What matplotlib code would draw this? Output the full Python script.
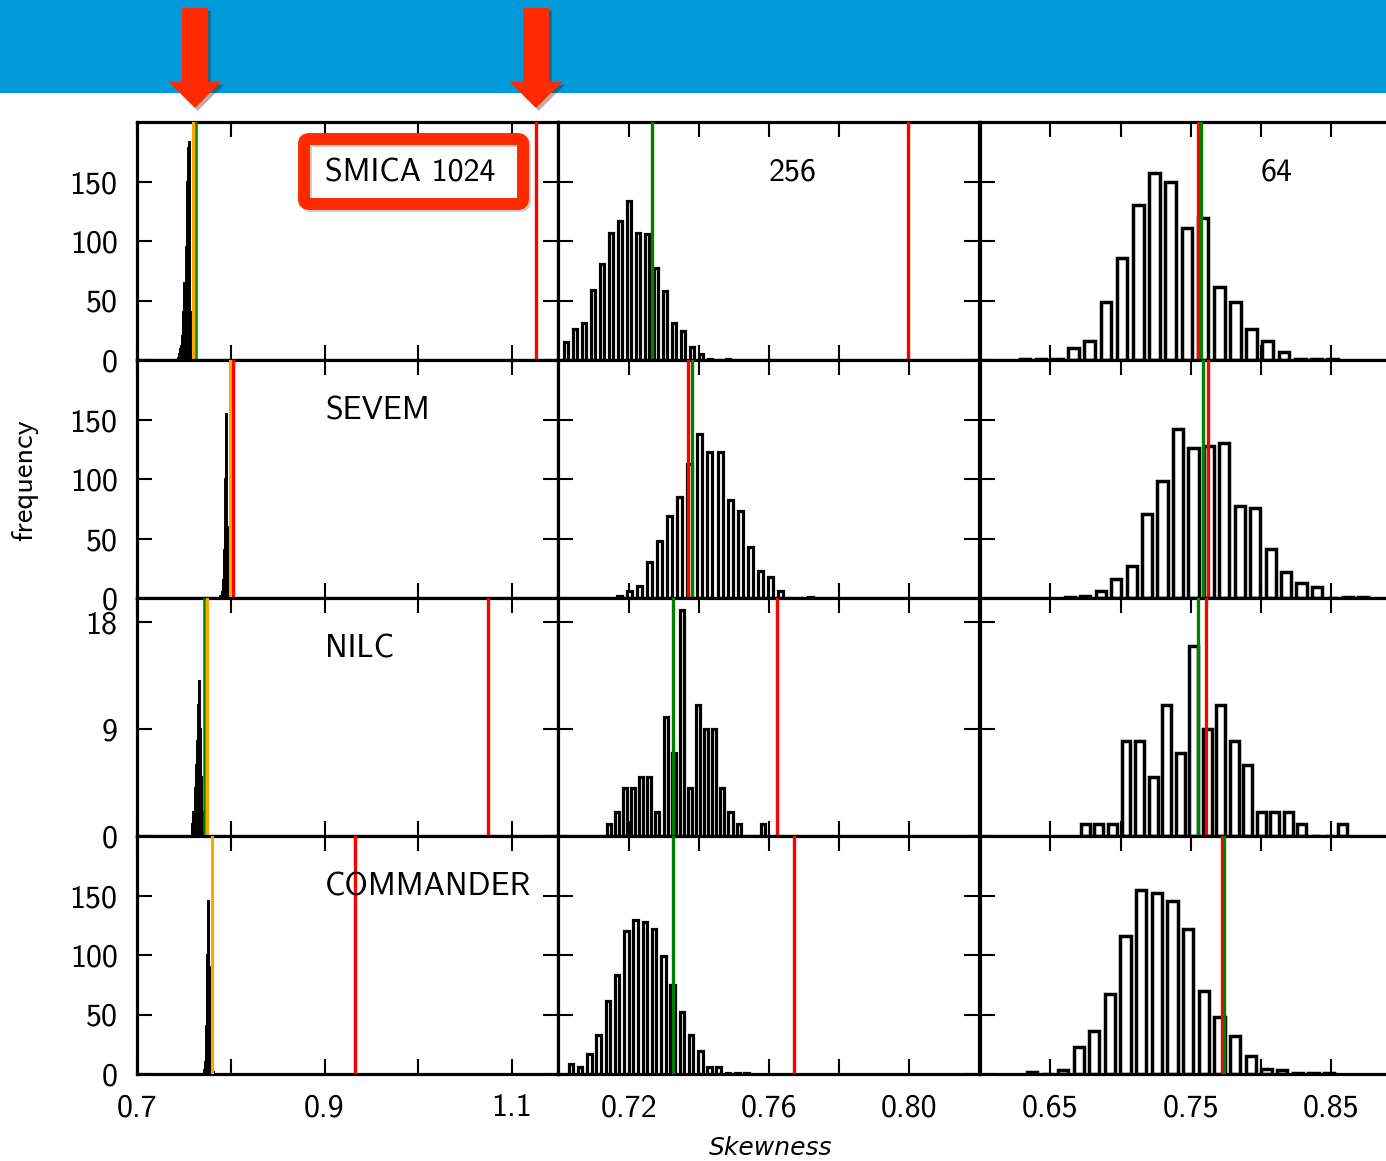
import numpy as np
import matplotlib
matplotlib.use('Agg')
import matplotlib.pyplot as plt
from matplotlib.patches import Rectangle, Polygon, FancyBboxPatch
import matplotlib.patheffects as pe

plt.rcParams['font.family'] = ['cmss10', 'DejaVu Sans']

methods = ['SMICA', 'SEVEM', 'NILC', 'COMMANDER']
nsides = ['1024', '256', '64']

# histogram counts per map, one list per component separation method
counts_1024 = [
    [2, 5, 9, 12, 20, 40, 65, 95, 150, 178, 183, 40, 5],
    [2, 5, 15, 40, 100, 155, 60, 25, 12, 8, 3],
    [1, 2, 4, 6, 8, 11, 13, 9, 5, 2],
    [3, 10, 40, 100, 145, 90, 30, 8, 2],
]
first_bin_1024 = [0.7440, 0.7896, 0.7596, 0.7716]
bin_width_1024 = [0.0012, 0.0012, 0.0012, 0.0012]

counts_256 = [
    [15, 26, 31, 59, 81, 107, 117, 134, 107, 106, 77, 58, 31, 24, 11, 5, 1, 0, 1],
    [2, 6, 10, 30, 48, 69, 85, 113, 138, 123, 123, 82, 73, 43, 23, 18, 6, 0, 0, 1],
    [1, 2, 4, 4, 5, 5, 2, 10, 7, 19, 4, 11, 9, 9, 4, 2, 1, 0, 0, 1],
    [8, 6, 17, 33, 61, 83, 120, 129, 128, 122, 99, 75, 52, 33, 19, 6, 6, 1, 1, 1],
]
first_bin_256 = [0.7020, 0.7172, 0.7142, 0.7034]
bin_width_256 = [0.00257, 0.00288, 0.00232, 0.00264]

counts_64 = [
    [1, 1, 1, 10, 16, 49, 86, 130, 157, 150, 111, 119, 61, 49, 26, 16, 7, 1, 1, 1],
    [1, 2, 6, 16, 27, 71, 98, 142, 126, 128, 130, 77, 76, 41, 22, 13, 9, 0, 1, 1],
    [1, 1, 1, 8, 8, 5, 11, 7, 16, 9, 11, 8, 6, 2, 2, 2, 1, 0, 0, 1],
    [2, 0, 3, 23, 36, 67, 116, 155, 152, 145, 122, 70, 48, 32, 15, 4, 3, 1, 1, 1],
]
first_bin_64 = [0.6320, 0.6640, 0.6750, 0.6368]
bin_width_64 = [0.01152, 0.01099, 0.00963, 0.01114]

# observed skewness (red), simulation mean (green), full-resolution value (orange)
red_1024 = [1.1255, 0.8025, 1.0745, 0.9330]
green_1024 = [0.7628, 0.7995, 0.7713, 0.7800]
orange_1024 = [0.7596, 0.7990, 0.7748, 0.7798]
red_256 = [0.7996, 0.7368, 0.7622, 0.7670]
green_256 = [0.7265, 0.7380, 0.7327, 0.7327]
red_64 = [0.7549, 0.7620, 0.7606, 0.7720]
green_64 = [0.7571, 0.7590, 0.7549, 0.7737]

xlims = [(0.7, 1.149), (0.6997, 0.82), (0.6, 0.8996)]
xticks_major = [[0.7, 0.9, 1.1], [0.72, 0.76, 0.80], [0.65, 0.75, 0.85]]
xtick_labels = [['0.7', '0.9', '1.1'], ['0.72', '0.76', '0.80'], ['0.65', '0.75', '0.85']]
xticks_minor = [[0.8, 1.0], [0.74, 0.78], [0.70, 0.80]]

W, H = 1386, 1161
col_left = [137, 558, 980]
row_top = [122, 360, 598, 836]
ax_w, ax_h = 421, 238


def fx(x):
    return x / W


def fy(y):
    return 1 - y / H


fig = plt.figure(figsize=(W / 100, H / 100), dpi=100)

counts_all = [counts_1024, counts_256, counts_64]
first_all = [first_bin_1024, first_bin_256, first_bin_64]
width_all = [bin_width_1024, bin_width_256, bin_width_64]
reds = [red_1024, red_256, red_64]
greens = [green_1024, green_256, green_64]

for r in range(4):
    for c in range(3):
        ax = fig.add_axes([fx(col_left[c]), fy(row_top[r] + ax_h), ax_w / W, ax_h / H])
        counts = counts_all[c][r]
        dx = width_all[c][r]
        centres = first_all[c][r] + dx * np.arange(len(counts))
        if c == 0:
            ax.bar(centres, counts, width=dx, color='black', edgecolor='black', linewidth=1.4, zorder=2)
        elif c == 1:
            ax.bar(centres, counts, width=0.5 * dx, facecolor='white', edgecolor='black',
                   linewidth=2.3, zorder=2)
        else:
            ax.bar(centres, counts, width=0.66 * dx, facecolor='white', edgecolor='black',
                   linewidth=2.5, zorder=2)

        ax.axvline(reds[c][r], color='red', lw=2.4, zorder=3)
        ax.axvline(greens[c][r], color='green', lw=2.4 if c else 1.8, zorder=3)
        if c == 0:
            ax.axvline(orange_1024[r], color='orange', lw=2.2, zorder=4)

        ax.set_xlim(*xlims[c])
        ax.set_xticks(xticks_major[c], labels=xtick_labels[c])
        ax.set_xticks(xticks_minor[c], minor=True)
        if r == 2:
            ax.set_ylim(0, 20)
            ax.set_yticks([0, 9, 18], labels=['0', '9', '18'])
        else:
            ax.set_ylim(0, 200)
            ax.set_yticks([0, 50, 100, 150], labels=['0', '50', '100', '150'])

        ax.tick_params(which='both', direction='in', length=10.5, width=1.5,
                       top=True, right=True, labelsize=23, pad=14,
                       labelbottom=(r == 3), labelleft=(c == 0))
        for s in ax.spines.values():
            s.set_linewidth(2.3)

        if r == 0 and c == 1:
            ax.text(0.558, 0.788, '256', transform=ax.transAxes, ha='center', va='center', fontsize=23)
        if r == 0 and c == 2:
            ax.text(0.705, 0.788, '64', transform=ax.transAxes, ha='center', va='center', fontsize=23)
        if c == 0:
            label = methods[r] + (' ' + nsides[0] if r == 0 else '')
            ax.text(0.447, 0.784, label, transform=ax.transAxes, ha='left', va='center', fontsize=23)

fig.text(fx(25), fy(480), 'frequency', rotation=90, ha='center', va='center', fontsize=22)
fig.text(fx(771), fy(1148), 'Skewness', family='DejaVu Sans', style='italic',
         ha='center', va='center', fontsize=18)

# blue banner with red arrows on top
fig.add_artist(Rectangle((0, fy(93)), 1, 93 / H, transform=fig.transFigure,
                         facecolor='#0099d9', edgecolor='none', zorder=1))

shadow = [pe.SimplePatchShadow(offset=(2, -2), alpha=0.35), pe.Normal()]
for cx in [195, 536]:
    pts = [(cx - 13, 8), (cx + 13, 8), (cx + 13, 82), (cx + 26, 82),
           (cx, 108), (cx - 26, 82), (cx - 13, 82)]
    arrow = Polygon([(fx(x), fy(y)) for x, y in pts], closed=True, transform=fig.transFigure,
                    facecolor='#ff2a00', edgecolor='none', zorder=6)
    arrow.set_path_effects(shadow)
    fig.add_artist(arrow)

# highlight frame around the SMICA 1024 label, with a soft offset shadow
for off, ec, alpha, z in [(2, 'black', 0.2, 5), (0, '#ff2a00', 1.0, 6)]:
    fig.add_artist(FancyBboxPatch((fx(304 + off), fy(204 + off)), (523 - 304) / W, (204 - 139) / H,
                                  boxstyle='round,pad=0,rounding_size=0.004',
                                  transform=fig.transFigure, facecolor='none', edgecolor=ec,
                                  alpha=alpha, linewidth=8.6, zorder=z))

fig.savefig('out.png', dpi=100)
